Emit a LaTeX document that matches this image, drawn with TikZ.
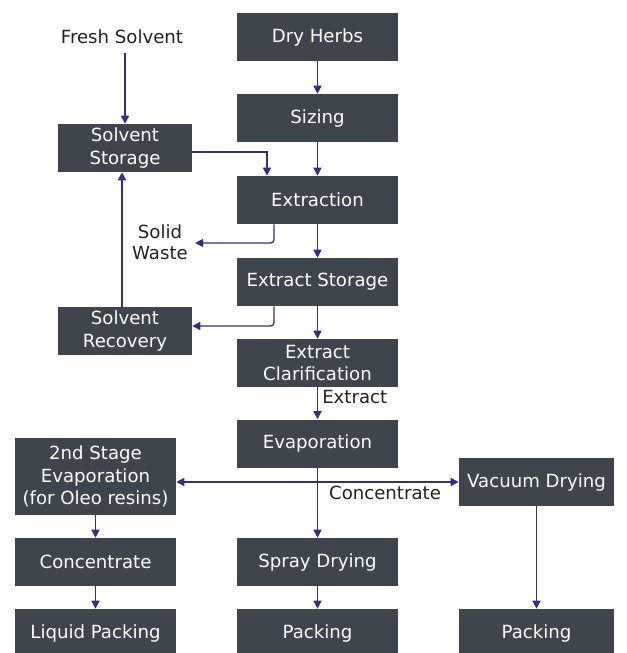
\documentclass[tikz,border=0pt]{standalone}
\usepackage{fontspec}
\setmainfont{DejaVu Sans}
\usetikzlibrary{arrows.meta,calc}
\definecolor{boxfill}{HTML}{3E454C}
\definecolor{flow}{HTML}{3A2A82}
\definecolor{labeltext}{HTML}{222222}
\tikzset{
  stage/.style={fill=boxfill, text=white, align=center, inner sep=0pt,
    minimum width=120.75pt, minimum height=36pt, font=\fontsize{13.6}{16.8}\selectfont},
  narrowstage/.style={stage, minimum width=100.5pt},
  flowarrow/.style={draw=flow, line width=1pt, -{Triangle[length=6pt,width=6pt]}},
  twoway/.style={draw=flow, line width=1pt, {Triangle[length=6pt,width=6pt]}-{Triangle[length=6pt,width=6pt]}},
  tag/.style={text=labeltext, align=center, inner sep=0pt, font=\fontsize{13.6}{16}\selectfont}
}
\begin{document}
\begin{tikzpicture}[x=0.75pt, y=-0.75pt]
\useasboundingbox (0,0) rectangle (626,653);

% main column
\node[stage] (dry)   at (317.5,37)  {Dry Herbs};
\node[stage] (size)  at (317.5,118) {Sizing};
\node[stage] (extr)  at (317.5,200) {Extraction};
\node[stage] (estore) at (317.5,282) {Extract Storage};
\node[stage] (clar)  at (317.5,363) {Extract\\Clarification};
\node[stage] (evap)  at (317.5,443.5) {Evaporation};
\node[stage] (spray) at (317.5,562) {Spray Drying};
\node[stage] (packm) at (317.5,633) {Packing};

% solvent loop
\node[tag] (fresh) at (122,37) {Fresh Solvent};
\node[narrowstage] (sstore) at (125,148) {Solvent\\Storage};
\node[narrowstage] (srec)   at (125,331) {Solvent\\Recovery};
\node[tag] (waste) at (160,242.5) {Solid\\Waste};

% left column
\node[stage, minimum height=57.75pt] (second) at (95.5,476.5) {2nd Stage\\Evaporation\\(for Oleo resins)};
\node[stage] (conc) at (95.5,562) {Concentrate};
\node[stage] (liq)  at (95.5,633) {Liquid Packing};

% right column
\node[stage, minimum width=116.25pt] (vac)   at (536.5,482) {Vacuum Drying};
\node[stage, minimum width=116.25pt] (packr) at (536.5,633) {Packing};

% flow labels
\node[tag, anchor=west] (extlabel) at (322,397) {Extract};
\node[tag] (conclabel) at (385,493) {Concentrate};

% main chain
\draw[flowarrow] (dry) -- (size);
\draw[flowarrow] (size) -- (extr);
\draw[flowarrow] (extr) -- (estore);
\draw[flowarrow] (estore) -- (clar);
\draw[flowarrow] (clar) -- (evap);
\draw[flowarrow] (evap) -- (spray);
\draw[flowarrow] (spray) -- (packm);

% solvent loop
\draw[flowarrow] ($(fresh.south -| sstore.north)+(0,9)$) -- (sstore.north);
\draw[flowarrow] ($(sstore.east)+(0,4)$) -| ($(extr.north)+(-50.5,0)$);
\draw[flowarrow, rounded corners=2.5pt] ($(extr.south)+(-43.5,0)$) |- ($(waste.east)+(7,0.5)$);
\draw[flowarrow, rounded corners=2.5pt] ($(estore.south)+(-43.5,0)$) |- ($(srec.east)+(0,-5)$);
\draw[flowarrow] ($(srec.north)+(-3,0)$) -- ($(sstore.south)+(-3,0)$);

% split after evaporation
\draw[twoway] (vac.west -| second.east) -- (vac.west);
\draw[flowarrow] (second) -- (conc);
\draw[flowarrow] (conc) -- (liq);
\draw[flowarrow] (vac) -- (packr);
\end{tikzpicture}
\end{document}
